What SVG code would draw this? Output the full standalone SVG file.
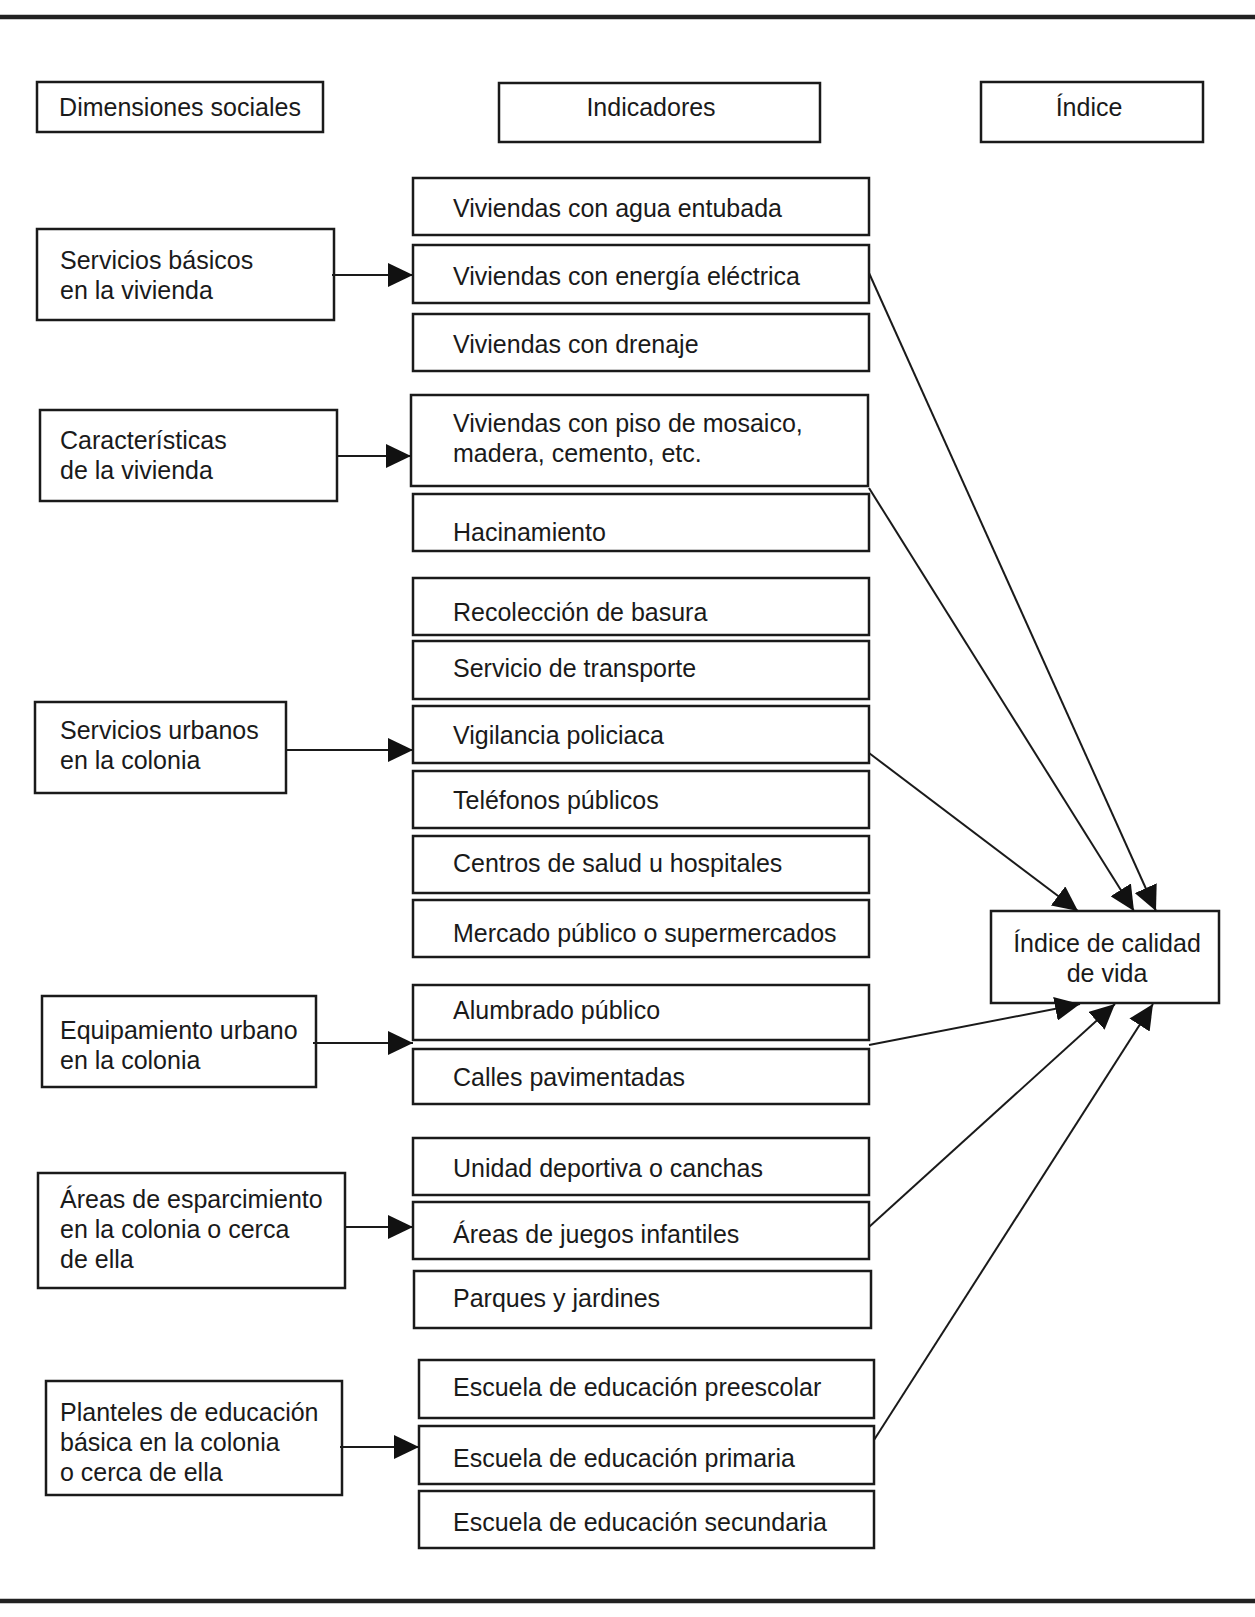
<svg xmlns="http://www.w3.org/2000/svg" width="1255" height="1617" viewBox="0 0 1255 1617">
<style>
.box{fill:#fff;stroke:#1a1a1a;stroke-width:2.5}
.t{font-family:"Liberation Sans",Arial,sans-serif;font-size:25px;fill:#1a1a1a}
.c{text-anchor:middle}
.ln{stroke:#1a1a1a;stroke-width:2;fill:none}
.rule{stroke:#222;stroke-width:4.5}
</style>
<defs>
<marker id="ah" markerUnits="userSpaceOnUse" markerWidth="26" markerHeight="24" refX="25" refY="12" orient="auto">
<path d="M0,0 L25,12 L0,24 Z" fill="#111"/>
</marker>
</defs>
<rect width="1255" height="1617" fill="#fff"/>
<line class="rule" x1="0" y1="17" x2="1255" y2="17"/>
<line class="rule" x1="0" y1="1601" x2="1255" y2="1601"/>

<g id="hdr-dim"><rect class="box" x="37" y="82" width="286" height="50"/><text class="t c" x="180" y="116">Dimensiones sociales</text></g>
<g id="hdr-ind"><rect class="box" x="499" y="83" width="321" height="59"/><text class="t c" x="651" y="116">Indicadores</text></g>
<g id="hdr-idx"><rect class="box" x="981" y="82" width="222" height="60"/><text class="t c" x="1089" y="116">Índice</text></g>

<g id="d1"><rect class="box" x="37" y="229" width="297" height="91"/><text class="t" x="60" y="269">Servicios básicos</text><text class="t" x="60" y="299">en la vivienda</text></g>
<g id="d2"><rect class="box" x="40" y="410" width="297" height="91"/><text class="t" x="60" y="449">Características</text><text class="t" x="60" y="479">de la vivienda</text></g>
<g id="d3"><rect class="box" x="35" y="702" width="251" height="91"/><text class="t" x="60" y="739">Servicios urbanos</text><text class="t" x="60" y="769">en la colonia</text></g>
<g id="d4"><rect class="box" x="42" y="996" width="274" height="91"/><text class="t" x="60" y="1039">Equipamiento urbano</text><text class="t" x="60" y="1069">en la colonia</text></g>
<g id="d5"><rect class="box" x="38" y="1173" width="307" height="115"/><text class="t" x="60" y="1208">Áreas de esparcimiento</text><text class="t" x="60" y="1238">en la colonia o cerca</text><text class="t" x="60" y="1268">de ella</text></g>
<g id="d6"><rect class="box" x="46" y="1381" width="296" height="114"/><text class="t" x="60" y="1421">Planteles de educación</text><text class="t" x="60" y="1451">básica en la colonia</text><text class="t" x="60" y="1481">o cerca de ella</text></g>

<g id="i1"><rect class="box" x="413" y="178" width="456" height="57"/><text class="t" x="453" y="217">Viviendas con agua entubada</text></g>
<g id="i2"><rect class="box" x="413" y="245" width="456" height="58"/><text class="t" x="453" y="285">Viviendas con energía eléctrica</text></g>
<g id="i3"><rect class="box" x="413" y="314" width="456" height="57"/><text class="t" x="453" y="353">Viviendas con drenaje</text></g>
<g id="i4"><rect class="box" x="411" y="395" width="457" height="91"/><text class="t" x="453" y="432">Viviendas con piso de mosaico,</text><text class="t" x="453" y="462">madera, cemento, etc.</text></g>
<g id="i5"><rect class="box" x="413" y="494" width="456" height="57"/><text class="t" x="453" y="541">Hacinamiento</text></g>
<g id="i6"><rect class="box" x="413" y="578" width="456" height="57"/><text class="t" x="453" y="621">Recolección de basura</text></g>
<g id="i7"><rect class="box" x="413" y="641" width="456" height="58"/><text class="t" x="453" y="677">Servicio de transporte</text></g>
<g id="i8"><rect class="box" x="413" y="706" width="456" height="57"/><text class="t" x="453" y="744">Vigilancia policiaca</text></g>
<g id="i9"><rect class="box" x="413" y="771" width="456" height="57"/><text class="t" x="453" y="809">Teléfonos públicos</text></g>
<g id="i10"><rect class="box" x="413" y="836" width="456" height="57"/><text class="t" x="453" y="872">Centros de salud u hospitales</text></g>
<g id="i11"><rect class="box" x="413" y="900" width="456" height="57"/><text class="t" x="453" y="942">Mercado público o supermercados</text></g>
<g id="i12"><rect class="box" x="413" y="985" width="456" height="55"/><text class="t" x="453" y="1019">Alumbrado público</text></g>
<g id="i13"><rect class="box" x="413" y="1049" width="456" height="55"/><text class="t" x="453" y="1086">Calles pavimentadas</text></g>
<g id="i14"><rect class="box" x="413" y="1138" width="456" height="57"/><text class="t" x="453" y="1177">Unidad deportiva o canchas</text></g>
<g id="i15"><rect class="box" x="413" y="1202" width="456" height="57"/><text class="t" x="453" y="1243">Áreas de juegos infantiles</text></g>
<g id="i16"><rect class="box" x="414" y="1271" width="457" height="57"/><text class="t" x="453" y="1307">Parques y jardines</text></g>
<g id="i17"><rect class="box" x="419" y="1360" width="455" height="58"/><text class="t" x="453" y="1396">Escuela de educación preescolar</text></g>
<g id="i18"><rect class="box" x="419" y="1426" width="455" height="58"/><text class="t" x="453" y="1467">Escuela de educación primaria</text></g>
<g id="i19"><rect class="box" x="419" y="1491" width="455" height="57"/><text class="t" x="453" y="1531">Escuela de educación secundaria</text></g>

<g id="idx"><rect class="box" x="991" y="911" width="228" height="92"/><text class="t c" x="1107" y="952">Índice de calidad</text><text class="t c" x="1107" y="982">de vida</text></g>

<g id="connectors">
<line class="ln" x1="332" y1="275" x2="413" y2="275" marker-end="url(#ah)"/>
<line class="ln" x1="337" y1="456" x2="411" y2="456" marker-end="url(#ah)"/>
<line class="ln" x1="286" y1="750" x2="413" y2="750" marker-end="url(#ah)"/>
<line class="ln" x1="313" y1="1043" x2="413" y2="1043" marker-end="url(#ah)"/>
<line class="ln" x1="345" y1="1227" x2="413" y2="1227" marker-end="url(#ah)"/>
<line class="ln" x1="340" y1="1447" x2="419" y2="1447" marker-end="url(#ah)"/>
<line class="ln" x1="869" y1="273" x2="1156" y2="911" marker-end="url(#ah)"/>
<line class="ln" x1="869" y1="488" x2="1134" y2="911" marker-end="url(#ah)"/>
<line class="ln" x1="869" y1="753" x2="1078" y2="911" marker-end="url(#ah)"/>
<line class="ln" x1="869" y1="1045" x2="1080" y2="1004" marker-end="url(#ah)"/>
<line class="ln" x1="869" y1="1227" x2="1115" y2="1004" marker-end="url(#ah)"/>
<line class="ln" x1="874" y1="1440" x2="1153" y2="1004" marker-end="url(#ah)"/>
</g>
</svg>
